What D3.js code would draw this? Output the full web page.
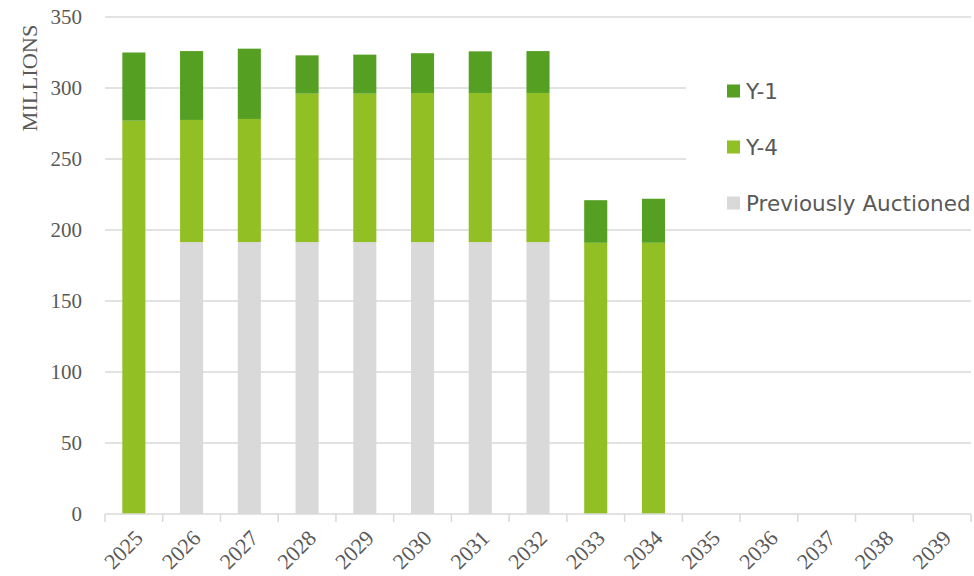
<!DOCTYPE html>
<html>
<head>
<meta charset="utf-8">
<script src="https://cdn.jsdelivr.net/npm/d3@7"></script>
<style>
  body { margin: 0; background: #fff; }
  svg { display: block; }
</style>
</head>
<body>
<svg id="chart" width="974" height="576"></svg>
<script>
// chart data
const years = ['2025', '2026', '2027', '2028', '2029', '2030', '2031', '2032',
               '2033', '2034', '2035', '2036', '2037', '2038', '2039'];
const previouslyAuctioned = [0, 191.5, 191.5, 191.5, 191.5, 191.5, 191.5, 191.5, 0, 0, 0, 0, 0, 0, 0];
const y4 = [277, 86, 86.7, 104.5, 104.5, 105, 105, 105, 191, 191, 0, 0, 0, 0, 0];
const y1 = [48, 48.5, 49.5, 27, 27.5, 28, 29.3, 29.5, 30, 31, 0, 0, 0, 0, 0];
const yTicks = [0, 50, 100, 150, 200, 250, 300, 350];

const seriesKeys = ['prev', 'y4', 'y1'];
const seriesNames = { prev: 'Previously Auctioned', y4: 'Y-4', y1: 'Y-1' };
const colors = { prev: '#d9d9d9', y4: '#92c024', y1: '#55a022' };

const rows = years.map((yr, i) => ({
  year: yr, prev: previouslyAuctioned[i], y4: y4[i], y1: y1[i]
}));

const svg = d3.select('#chart');
const margin = { top: 17, right: 3, bottom: 62, left: 105 };
const width = 974 - margin.left - margin.right;
const height = 576 - margin.top - margin.bottom;

const g = svg.append('g').attr('transform', `translate(${margin.left},${margin.top})`);

const x = d3.scaleBand().domain(years).range([0, width]).paddingInner(0.6).paddingOuter(0.3);
const y = d3.scaleLinear().domain([0, 350]).range([height, 0]);

// gridlines
g.append('g')
  .selectAll('line')
  .data(yTicks.filter(d => d > 0))
  .join('line')
  .attr('x1', 0).attr('x2', width)
  .attr('y1', d => y(d)).attr('y2', d => y(d))
  .attr('stroke', '#d9d9d9')
  .attr('stroke-width', 1.5);

// y tick labels
g.append('g')
  .selectAll('text')
  .data(yTicks)
  .join('text')
  .attr('x', -23)
  .attr('y', d => y(d))
  .attr('dy', '0.35em')
  .attr('text-anchor', 'end')
  .attr('font-family', '"Liberation Serif", serif')
  .attr('font-size', 21)
  .attr('fill', '#595959')
  .text(d => d);

// y axis title
svg.append('text')
  .attr('transform', 'translate(37,78) rotate(-90)')
  .attr('text-anchor', 'middle')
  .attr('font-family', '"Liberation Serif", serif')
  .attr('font-size', 22)
  .attr('fill', '#595959')
  .attr('textLength', 107)
  .attr('lengthAdjust', 'spacingAndGlyphs')
  .text('MILLIONS');

// stacked bars
const stack = d3.stack().keys(seriesKeys);
const layers = stack(rows);

g.append('g')
  .selectAll('g')
  .data(layers)
  .join('g')
  .attr('fill', d => colors[d.key])
  .selectAll('rect')
  .data(d => d)
  .join('rect')
  .attr('x', d => x(d.data.year))
  .attr('width', x.bandwidth())
  .attr('y', d => y(d[1]))
  .attr('height', d => y(d[0]) - y(d[1]));

// x axis line and ticks at band edges
const edges = d3.range(years.length + 1).map(i => i * width / years.length);
const axis = g.append('g').attr('transform', `translate(0,${height})`);
axis.append('line')
  .attr('x1', 0).attr('x2', width)
  .attr('stroke', '#d9d9d9').attr('stroke-width', 1.5);
axis.selectAll('line.tick')
  .data(edges)
  .join('line')
  .attr('class', 'tick')
  .attr('x1', d => d).attr('x2', d => d)
  .attr('y1', 0).attr('y2', 8)
  .attr('stroke', '#d9d9d9').attr('stroke-width', 1.5);

// x tick labels, rotated
axis.selectAll('text')
  .data(years)
  .join('text')
  .attr('transform', d => `translate(${x(d) + x.bandwidth() / 2 + 5},${20}) rotate(-45)`)
  .attr('text-anchor', 'end')
  .attr('dy', '0.35em')
  .attr('font-family', '"Liberation Serif", serif')
  .attr('font-size', 22)
  .attr('fill', '#595959')
  .text(d => d);

// legend with white background
const legend = svg.append('g');
legend.append('rect')
  .attr('x', 686).attr('y', 62)
  .attr('width', 288).attr('height', 167)
  .attr('fill', '#fff');

const legendItems = ['y1', 'y4', 'prev'];
const li = legend.selectAll('g.item')
  .data(legendItems)
  .join('g')
  .attr('class', 'item')
  .attr('transform', (d, i) => `translate(727,${91 + i * 56})`);
li.append('rect')
  .attr('x', 0).attr('y', -6.5)
  .attr('width', 13).attr('height', 13)
  .attr('fill', d => colors[d]);
li.append('text')
  .attr('x', 19)
  .attr('dy', '0.36em')
  .attr('font-family', '"DejaVu Sans", sans-serif')
  .attr('font-size', 21.5)
  .attr('fill', '#595959')
  .text(d => seriesNames[d]);
</script>
</body>
</html>
